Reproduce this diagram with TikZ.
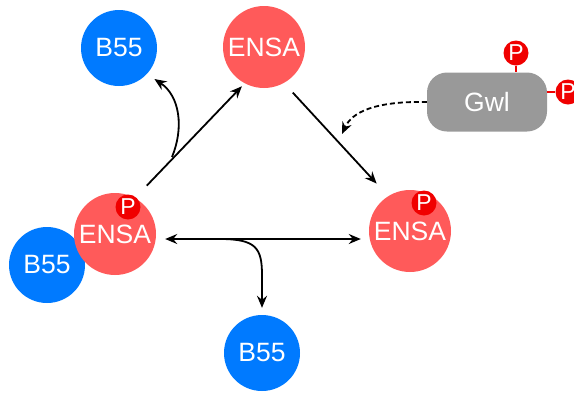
\documentclass[tikz,border=0pt]{standalone}
\usepackage{fontspec}
\setmainfont{Liberation Sans}
\usetikzlibrary{arrows.meta,calc}
\definecolor{b55blue}{RGB}{0,122,255}
\definecolor{ensared}{RGB}{255,90,90}
\definecolor{pred}{RGB}{240,0,0}
\definecolor{gwlgray}{RGB}{153,153,153}
\begin{document}
\begin{tikzpicture}[x=1pt,y=-1pt,
  prot/.style={circle, inner sep=0pt, text=white, font=\fontsize{26.5}{26.5}\selectfont},
  b55/.style={prot, fill=b55blue, minimum size=76pt},
  ensa/.style={prot, fill=ensared, minimum size=82pt},
  phos/.style={circle, fill=pred, inner sep=0pt, minimum size=25pt, text=white,
    font=\fontsize{23}{23}\selectfont},
  kinase/.style={rounded corners=20pt, fill=gwlgray, minimum width=120pt,
    minimum height=59pt, inner sep=0pt, text=white, font=\fontsize{26.5}{26.5}\selectfont},
  tip/.style={-{Stealth[length=12pt,width=10pt,inset=4pt]}},
  link/.style={line width=1.8pt, tip},
  plink/.style={draw=pred, line width=1.8pt},
]
\useasboundingbox (0,0) rectangle (574,392);

% proteins
\node[b55]  (tb55)  at (119,48)  {B55};
\node[ensa] (tensa) at (264,47)  {ENSA};
\node[b55]  (lb55)  at (47,265)  {B55};
\node[ensa] (lensa) at (115,234) {ENSA};
\node[ensa] (rensa) at (410,231) {ENSA};
\node[b55]  (bb55)  at (262,353) {B55};
\node[phos] (lp) at (128,207) {P};
\node[phos] (rp) at (424,203) {P};

% Greatwall kinase with its two phosphates
\node[kinase] (gwl) at (487,102) {Gwl};
\node[phos] (gp1) at (516,53) {P};
\node[phos] (gp2) at (568,92) {P};
\draw[plink] (gp1.south) -- (gwl.north -| gp1.south);
\draw[plink] (gwl.east |- gp2.west) -- (gp2.west);

% phosphorylation / dephosphorylation cycle
\draw[link, shorten <=17pt, shorten >=4pt] (lensa.61) -- (tensa.242);
\coordinate (j1) at (172,157);
\draw[link, shorten >=9pt] (j1) .. controls (184,128) and (180,96) .. (tb55.-43);
\draw[link, shorten <=13pt, shorten >=17pt] (tensa.-61) -- (rensa.122);
\draw[line width=1.8pt, {Stealth[length=12pt,width=10pt,inset=4pt]}-{Stealth[length=12pt,width=10pt,inset=4pt]},
  shorten <=9pt, shorten >=8pt]
  ([yshift=-5pt]lensa.east) -- ([yshift=-5pt]lensa.east -| rensa.west);
\coordinate (j2) at (220,239);
\draw[link, shorten >=7pt] (j2) .. controls (256,239) and (262,248) .. (262,275) -- (bb55.north);

% Gwl acting on ENSA
\coordinate (gtip) at (342,134);
\draw[link, dash pattern=on 5pt off 3pt] (gwl.west) .. controls (375,101) and (352,112) .. (gtip);
\end{tikzpicture}
\end{document}
